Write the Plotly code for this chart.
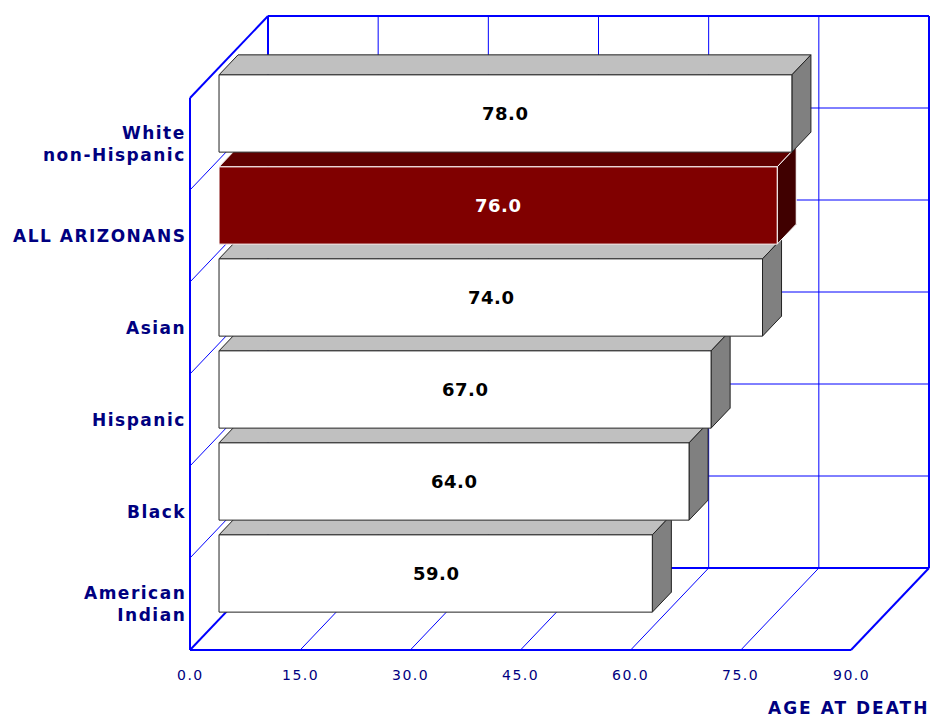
import plotly.graph_objects as go

# ---------------- data ----------------
categories = ["American<br>Indian", "Black", "Hispanic", "Asian", "ALL ARIZONANS", "White<br>non-Hispanic"]
values = [59.0, 64.0, 67.0, 74.0, 76.0, 78.0]
highlight = "ALL ARIZONANS"
x_ticks = [0, 15, 30, 45, 60, 75, 90]
x_tick_labels = ["0.0", "15.0", "30.0", "45.0", "60.0", "75.0", "90.0"]
axis_title = "AGE AT DEATH"

# ---------------- geometry / style ----------------
W, H = 933, 717
X0_PX, Y0_PX = 190, 650          # pixel position of value 0 / bottom of front plane
SX = 661 / 90                      # px per value unit
SY = 92                            # px per category band
DEPTH_PX = (78, 82)                # oblique depth offset (right, up)
DX, DY = DEPTH_PX[0] / SX, DEPTH_PX[1] / SY
F0, F1 = 0.372, 0.616              # bar front / back depth fraction
BAR_LO, BAR_HI = 0.08, 0.92        # bar extent inside band
XMAX = x_ticks[-1]
N = len(categories)

NAVY = "#000080"
BLUE = "#0000ff"
FONT = "DejaVu Sans"


def spaced(txt, px):
    return f'<span style="letter-spacing:{px}px">{txt}</span>'


def proj(v, c, f):
    return v + f * DX, c + f * DY


fig = go.Figure()


def add_segments(segs, width, color=BLUE):
    xs, ys = [], []
    for a, b in segs:
        xs += [a[0], b[0], None]
        ys += [a[1], b[1], None]
    fig.add_trace(go.Scatter(x=xs, y=ys, mode="lines", line=dict(color=color, width=width),
                             hoverinfo="skip", showlegend=False))


thin, thick = [], []
for t in x_ticks[1:-1]:
    thin.append((proj(t, 0, 1), proj(t, N, 1)))      # back wall verticals
    thin.append((proj(t, 0, 0), proj(t, 0, 1)))      # floor diagonals
for c in range(1, N):
    thin.append((proj(0, c, 1), proj(XMAX, c, 1)))   # back wall horizontals
    thin.append((proj(0, c, 0), proj(0, c, 1)))      # left wall diagonals

thick += [
    (proj(0, 0, 0), proj(0, N, 0)),
    (proj(0, 0, 0), proj(XMAX, 0, 0)),
    (proj(0, 0, 1), proj(XMAX, 0, 1)),
    (proj(0, N, 1), proj(XMAX, N, 1)),
    (proj(0, 0, 1), proj(0, N, 1)),
    (proj(XMAX, 0, 1), proj(XMAX, N, 1)),
    (proj(0, N, 0), proj(0, N, 1)),
    (proj(0, 0, 0), proj(0, 0, 1)),
    (proj(XMAX, 0, 0), proj(XMAX, 0, 1)),
]
add_segments(thin, 1)
add_segments(thick, 2)


def face(pts, fill, border):
    xs = [p[0] for p in pts] + [pts[0][0]]
    ys = [p[1] for p in pts] + [pts[0][1]]
    fig.add_trace(go.Scatter(x=xs, y=ys, mode="lines", fill="toself", fillcolor=fill,
                             line=dict(color=border, width=1), hoverinfo="skip", showlegend=False))


for i, (cat, v) in enumerate(zip(categories, values)):
    c0, c1 = i + BAR_LO, i + BAR_HI
    if cat == highlight:
        cf, ct, cs, bd = "#800000", "#600000", "#400000", "#ffffff"
    else:
        cf, ct, cs, bd = "#ffffff", "#c0c0c0", "#808080", "#222222"
    face([proj(0, c1, F0), proj(v, c1, F0), proj(v, c1, F1), proj(0, c1, F1)], ct, bd)
    face([proj(v, c0, F0), proj(v, c0, F1), proj(v, c1, F1), proj(v, c1, F0)], cs, bd)
    face([proj(0, c0, F0), proj(v, c0, F0), proj(v, c1, F0), proj(0, c1, F0)], cf, bd)
    tx, ty = proj(v / 2, i + 0.5, F0)
    fig.add_annotation(x=tx, y=ty, text=f"<b>{spaced(f'{v:.1f}', 0.5)}</b>", showarrow=False,
                       font=dict(family=FONT, size=18,
                                 color="#ffffff" if cat == highlight else "#000000"))

# category labels
for i, cat in enumerate(categories):
    lines = cat.split("<br>")
    txt = "<br>".join(spaced(l, 1.5) for l in lines)
    fig.add_annotation(x=-2 / SX, y=i + 0.5, text=f"<b>{txt}</b>", showarrow=False,
                       xanchor="right", align="right",
                       font=dict(family=FONT, size=17, color=NAVY))

# x tick labels
for t, lab in zip(x_ticks, x_tick_labels):
    fig.add_annotation(x=t, y=-25 / SY, text=spaced(lab, 1.5), showarrow=False,
                       font=dict(family=FONT, size=14, color=NAVY))

fig.add_annotation(x=(931 - X0_PX) / SX, y=-58 / SY, text=f"<b>{spaced(axis_title, 2)}</b>",
                   showarrow=False, xanchor="right",
                   font=dict(family=FONT, size=17, color=NAVY))

fig.update_layout(
    width=W, height=H, autosize=False,
    margin=dict(l=0, r=0, t=0, b=0),
    paper_bgcolor="white", plot_bgcolor="white",
    xaxis=dict(visible=False, range=[-X0_PX / SX, (W - X0_PX) / SX], fixedrange=True),
    yaxis=dict(visible=False, range=[(Y0_PX - H) / SY, Y0_PX / SY], fixedrange=True),
    showlegend=False,
)

fig.write_html("out.html", config={"displayModeBar": False},
               post_script="document.body.style.margin='0';document.body.style.overflow='hidden';")
